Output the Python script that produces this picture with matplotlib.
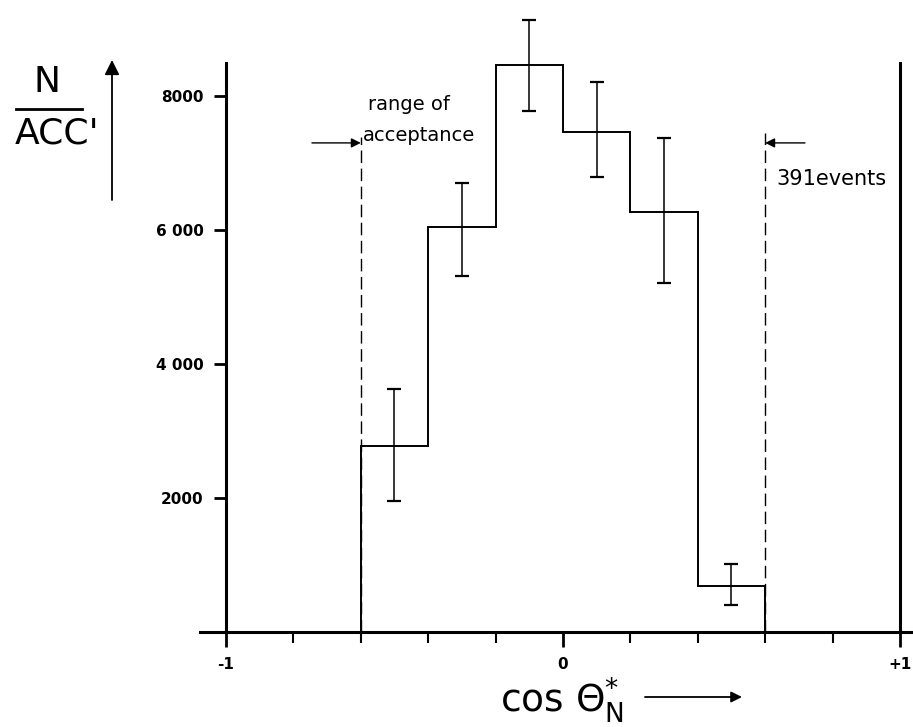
import numpy as np
import matplotlib.pyplot as plt
from matplotlib.lines import Line2D

# histogram of cos(theta*_N)
edges = [-0.6, -0.4, -0.2, 0.0, 0.2, 0.4, 0.6]
counts = [2780, 6040, 8460, 7470, 6270, 680]
err_lo = [1960, 5320, 7780, 6790, 5210, 405]
err_hi = [3620, 6700, 9140, 8210, 7380, 1015]

ytick_vals = [2000, 4000, 6000, 8000]
ytick_labels = ['2000', '4 000', '6 000', '8000']
xtick_vals = [-1, 0, 1]
xtick_labels = ['-1', '0', '+1']
xminor_vals = [-0.8, -0.6, -0.4, -0.2, 0.2, 0.4, 0.6, 0.8]

W, H = 913, 727
plt.rcParams['mathtext.default'] = 'regular'

fig = plt.figure(figsize=(W / 100, H / 100), dpi=100)
ax = fig.add_axes([0, 0, 1, 1])
ax.set_xlim(-1.6706, 1.0386)
ax.set_ylim(-1418, 9433)


def fx(px):
    return px / W


def fy(py):
    return 1 - py / H


# histogram and error bars
ax.stairs(counts, edges, baseline=0, color='black', lw=1.4)
centers = [(a + b) / 2 for a, b in zip(edges[:-1], edges[1:])]
yerr = [np.subtract(counts, err_lo), np.subtract(err_hi, counts)]
ax.errorbar(centers, counts, yerr=yerr, fmt='none', ecolor='black',
            elinewidth=1.1, capsize=5, capthick=1.6)

# acceptance limits
ax.plot([-0.6, -0.6], [0, 7390], ls=(0, (9, 4)), lw=1.0, color='black')
ax.plot([0.6, 0.6], [0, 7450], ls=(0, (9, 4)), lw=1.0, color='black')
arrow = dict(arrowstyle='-|>', color='black', lw=1.0, mutation_scale=14,
             shrinkA=0, shrinkB=0)
ax.annotate('', xy=(-0.6, 7300), xytext=(-0.745, 7300), arrowprops=arrow)
ax.annotate('', xy=(0.6, 7300), xytext=(0.718, 7300), arrowprops=arrow)

ax.text(-0.58, 7866, 'range of', ha='left', va='center', fontsize=14)
ax.text(-0.593, 7418, 'acceptance', ha='left', va='center', fontsize=14)
ax.text(0.632, 6761, '391events', ha='left', va='center', fontsize=15)

# axes frame
ax.spines['top'].set_visible(False)
ax.spines['left'].set_position(('data', -1))
ax.spines['left'].set_bounds(0, 8490)
ax.spines['right'].set_position(('data', 1))
ax.spines['right'].set_bounds(0, 8490)
ax.spines['bottom'].set_position(('data', 0))
ax.spines['bottom'].set_bounds(-1.077, 1.0386)
for s in ['left', 'right', 'bottom']:
    ax.spines[s].set_linewidth(2.2)

ax.yaxis.set_ticks_position('left')
ax.xaxis.set_ticks_position('bottom')
ax.set_yticks(ytick_vals, ytick_labels)
ax.set_xticks(xtick_vals, xtick_labels)
ax.set_xticks(xminor_vals, minor=True)
ax.tick_params(axis='y', direction='out', length=9, width=2, pad=7, labelsize=11)
ax.tick_params(axis='x', which='major', direction='out', length=11, width=2,
               pad=7, labelsize=11)
ax.tick_params(axis='x', which='minor', direction='out', length=8, width=1.5)
for lbl in ax.get_xticklabels() + ax.get_yticklabels():
    lbl.set_fontweight('bold')

# y label N / ACC'
fig.text(fx(47), fy(82), 'N', ha='center', va='center', fontsize=26)
fig.add_artist(Line2D([fx(16), fx(82)], [fy(109), fy(109)], lw=2, color='black'))
fig.text(fx(57), fy(134), "ACC'", ha='center', va='center', fontsize=26)
ax.annotate('', xy=(fx(112), fy(60)), xytext=(fx(112), fy(200)),
            xycoords='figure fraction', textcoords='figure fraction',
            arrowprops=dict(arrowstyle='-|>', color='black', lw=1.3,
                            mutation_scale=22, shrinkA=0, shrinkB=0))

# x label
fig.text(fx(562), fy(700), r'cos $\Theta^{*}_{N}$', ha='center', va='center',
         fontsize=27)
ax.annotate('', xy=(fx(742), fy(697)), xytext=(fx(645), fy(697)),
            xycoords='figure fraction', textcoords='figure fraction',
            arrowprops=dict(arrowstyle='-|>', color='black', lw=1.3,
                            mutation_scale=16, shrinkA=0, shrinkB=0))

fig.savefig('out.png', dpi=100)
